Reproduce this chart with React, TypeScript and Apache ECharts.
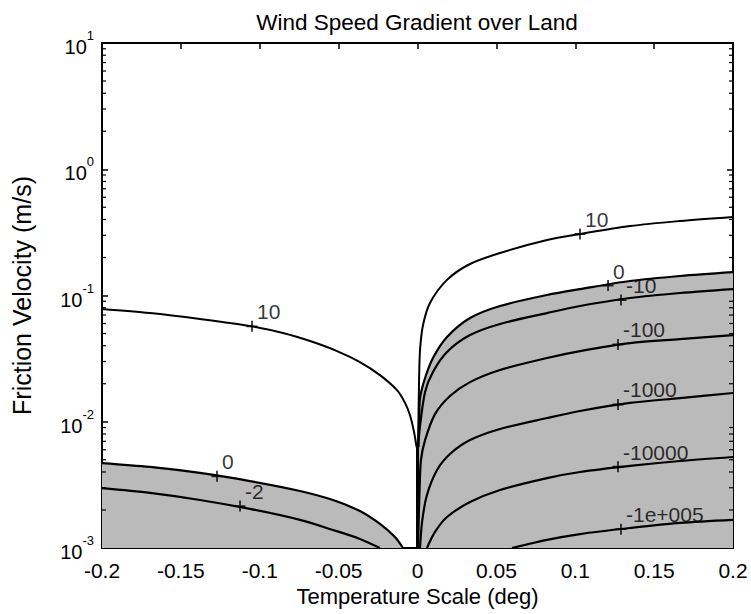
import React, { useEffect, useRef } from "react";
import * as echarts from "echarts";

const TITLE = "Wind Speed Gradient over Land";
const X_NAME = "Temperature Scale (deg)";
const Y_NAME = "Friction Velocity (m/s)";

const X_MIN = -0.2;
const X_MAX = 0.2;
const X_STEP = 0.05;
const Y_MIN = 0.001;
const Y_MAX = 10;

// contour lines [temperature scale, friction velocity]
const LEFT_10 = [
  [-0.2, 0.0782], [-0.1696, 0.0726], [-0.1379, 0.0651], [-0.1062, 0.0573], [-0.0853, 0.0505],
  [-0.0681, 0.0436], [-0.051, 0.0363], [-0.0365, 0.0297], [-0.0238, 0.0234], [-0.013, 0.0178],
  [-0.0079, 0.0141], [-0.0048, 0.0113], [-0.0022, 0.0083], [-0.0006, 0.0063],
];
const LEFT_0 = [
  [-0.2, 0.00471], [-0.1696, 0.00439], [-0.1379, 0.00393], [-0.1062, 0.00339], [-0.0745, 0.00283],
  [-0.0536, 0.0024], [-0.0365, 0.00196], [-0.0238, 0.00155], [-0.0143, 0.00122], [-0.0092, 0.001],
];
const LEFT_M2 = [
  [-0.2, 0.00298], [-0.1696, 0.00273], [-0.1379, 0.0024], [-0.1062, 0.00204], [-0.0745, 0.00167],
  [-0.0536, 0.00139], [-0.0365, 0.00118], [-0.0238, 0.001],
];
const RIGHT_10 = [
  [0.0004, 0.0063], [0.001, 0.0214], [0.0016, 0.037], [0.0035, 0.0583], [0.0079, 0.0873],
  [0.0187, 0.133], [0.0333, 0.1776], [0.0523, 0.2171], [0.0821, 0.2752], [0.103, 0.307],
  [0.1347, 0.355], [0.1664, 0.389], [0.2, 0.419],
];
const RIGHT_0 = [
  [0.0004, 0.0063], [0.001, 0.0103], [0.0016, 0.0154], [0.0048, 0.0222], [0.0098, 0.032],
  [0.0187, 0.0469], [0.0333, 0.0663], [0.0523, 0.0826], [0.0821, 0.101], [0.103, 0.1124],
  [0.1347, 0.1302], [0.1664, 0.1427], [0.2, 0.153],
];
const RIGHT_M10 = [
  [0.0005, 0.0063], [0.0013, 0.0086], [0.0048, 0.0172], [0.0098, 0.0248], [0.0187, 0.0357],
  [0.0333, 0.0486], [0.0523, 0.0595], [0.0821, 0.0726], [0.103, 0.0826], [0.1347, 0.0955],
  [0.1664, 0.1047], [0.2, 0.1124],
];
const RIGHT_M100 = [
  [0.0003, 0.001], [0.0006, 0.00139], [0.0013, 0.00288], [0.0022, 0.00498], [0.0048, 0.00716],
  [0.0111, 0.0115], [0.0206, 0.016], [0.0333, 0.0206], [0.0523, 0.0257], [0.0821, 0.032],
  [0.103, 0.0363], [0.1347, 0.042], [0.1664, 0.0452], [0.2, 0.0486],
];
const RIGHT_M1000 = [
  [0.0016, 0.001], [0.0029, 0.00161], [0.006, 0.00263], [0.0124, 0.00415], [0.0206, 0.00555],
  [0.0333, 0.00716], [0.0523, 0.00876], [0.0821, 0.0107], [0.103, 0.01217], [0.1347, 0.0141],
  [0.1664, 0.0154], [0.2, 0.0169],
];
const RIGHT_M10000 = [
  [0.006, 0.001], [0.0111, 0.00134], [0.0187, 0.00176], [0.0333, 0.00231], [0.0523, 0.00288],
  [0.0821, 0.00358], [0.103, 0.004], [0.1347, 0.00447], [0.1664, 0.00489], [0.2, 0.00526],
];
const RIGHT_M1E5 = [
  [0.0599, 0.001], [0.0821, 0.00116], [0.103, 0.00129], [0.1347, 0.00144], [0.1664, 0.00158],
  [0.2, 0.00167],
];
const CENTER_LINE = [[0, 0.0066], [0, 0.001]];

// contour labels: [x, y, text]
const CONTOUR_LABELS: [number, number, string][] = [
  [-0.1049, 0.057, "10"],
  [-0.1271, 0.0037, "0"],
  [-0.1125, 0.00215, "-2"],
  [0.103, 0.307, "10"],
  [0.1208, 0.12, "0"],
  [0.129, 0.092, "-10"],
  [0.1271, 0.041, "-100"],
  [0.1271, 0.0137, "-1000"],
  [0.1271, 0.0044, "-10000"],
  [0.129, 0.00141, "-1e+005"],
];

const MINOR_TICKS = [
  0.002, 0.003, 0.004, 0.005, 0.006, 0.007, 0.008, 0.009,
  0.02, 0.03, 0.04, 0.05, 0.06, 0.07, 0.08, 0.09,
  0.2, 0.3, 0.4, 0.5, 0.6, 0.7, 0.8, 0.9,
  2, 3, 4, 5, 6, 7, 8, 9,
];

const FONT = "'Liberation Sans', Arial, Helvetica, sans-serif";
const FILL = "#bababa";

export default function App() {
  const ref = useRef<HTMLDivElement>(null);

  useEffect(() => {
    document.body.style.margin = "0";
    if (!ref.current) return;
    const chart = echarts.init(ref.current, undefined, { renderer: "svg" });

    const lineSeries = (data: number[][], withArea: boolean, width = 2.2) => ({
      type: "line",
      data,
      showSymbol: false,
      smooth: 0.3,
      silent: true,
      lineStyle: { color: "#000", width },
      areaStyle: withArea ? { color: FILL, opacity: 1, origin: "start" } : undefined,
      z: 3,
    });

    const yTickLabel = (v: number) => {
      const e = Math.round(Math.log10(v));
      return `{b|10}{s|${e}}`;
    };

    const axisLine = { show: true, onZero: false, lineStyle: { color: "#000", width: 2 } };
    const axisTick = { show: true, inside: true, length: 6, lineStyle: { color: "#000", width: 1.5 } };

    const option: any = {
      animation: false,
      backgroundColor: "#fff",
      title: {
        text: TITLE,
        left: 412,
        textAlign: "center",
        top: 6,
        textStyle: { fontFamily: FONT, fontSize: 22.5, fontWeight: "normal", color: "#000" },
      },
      grid: { left: 102, right: 18, top: 43, bottom: 66 },
      xAxis: [
        {
          type: "value",
          min: X_MIN,
          max: X_MAX,
          interval: X_STEP,
          position: "bottom",
          name: X_NAME,
          nameLocation: "middle",
          nameGap: 36,
          nameTextStyle: { fontFamily: FONT, fontSize: 22, color: "#000" },
          axisLine,
          axisTick,
          axisLabel: {
            margin: 12,
            fontFamily: FONT,
            fontSize: 21,
            color: "#000",
            formatter: (v: number) => String(+v.toFixed(2)),
          },
          splitLine: { show: false },
        },
        {
          type: "value",
          min: X_MIN,
          max: X_MAX,
          interval: X_STEP,
          position: "top",
          axisLine,
          axisTick,
          axisLabel: { show: false },
          splitLine: { show: false },
        },
      ],
      yAxis: [
        {
          type: "log",
          logBase: 10,
          min: Y_MIN,
          max: Y_MAX,
          position: "left",
          name: Y_NAME,
          nameLocation: "middle",
          nameGap: 68,
          nameTextStyle: { fontFamily: FONT, fontSize: 25, color: "#000" },
          axisLine,
          axisTick,
          axisLabel: {
            margin: 8,
            formatter: yTickLabel,
            rich: {
              b: { fontFamily: FONT, fontSize: 20, color: "#000", verticalAlign: "bottom", lineHeight: 28 },
              s: { fontFamily: FONT, fontSize: 13, color: "#000", verticalAlign: "top", lineHeight: 28 },
            },
          },
          splitLine: { show: false },
        },
        {
          type: "log",
          logBase: 10,
          min: Y_MIN,
          max: Y_MAX,
          position: "right",
          axisLine,
          axisTick,
          axisLabel: { show: false },
          splitLine: { show: false },
        },
      ],
      series: [
        lineSeries(LEFT_0, true),
        lineSeries(RIGHT_0, true),
        lineSeries(LEFT_M2, false),
        lineSeries(LEFT_10, false, 2),
        lineSeries(RIGHT_10, false, 2),
        lineSeries(RIGHT_M10, false),
        lineSeries(RIGHT_M100, false),
        lineSeries(RIGHT_M1000, false),
        lineSeries(RIGHT_M10000, false),
        lineSeries(RIGHT_M1E5, false),
        { ...lineSeries(CENTER_LINE, false, 3), smooth: false },
        {
          type: "custom",
          silent: true,
          clip: false,
          z: 4,
          data: MINOR_TICKS.map((v) => [X_MIN, v]),
          encode: { x: 0, y: 1 },
          renderItem: (params: any, api: any) => {
            const v = api.value(1);
            const pl = api.coord([X_MIN, v]);
            const pr = api.coord([X_MAX, v]);
            return {
              type: "group",
              children: [
                { type: "line", shape: { x1: pl[0], y1: pl[1], x2: pl[0] + 4, y2: pl[1] }, style: { stroke: "#000", lineWidth: 1.2 } },
                { type: "line", shape: { x1: pr[0], y1: pr[1], x2: pr[0] - 4, y2: pr[1] }, style: { stroke: "#000", lineWidth: 1.2 } },
              ],
            };
          },
        },
        {
          type: "scatter",
          silent: true,
          z: 5,
          symbol: "path://M5,0 L5,10 M0,5 L10,5",
          symbolSize: 11,
          itemStyle: { color: "none", borderColor: "#000", borderWidth: 1.8 },
          label: {
            show: true,
            position: [13, -17],
            fontFamily: FONT,
            fontSize: 21,
            color: "#000",
          },
          data: CONTOUR_LABELS.map(([x, y, t]) => ({ value: [x, y], label: { formatter: t } })),
        },
      ],
    };

    chart.setOption(option);
    return () => chart.dispose();
  }, []);

  return <div ref={ref} style={{ width: 751, height: 614 }} />;
}
